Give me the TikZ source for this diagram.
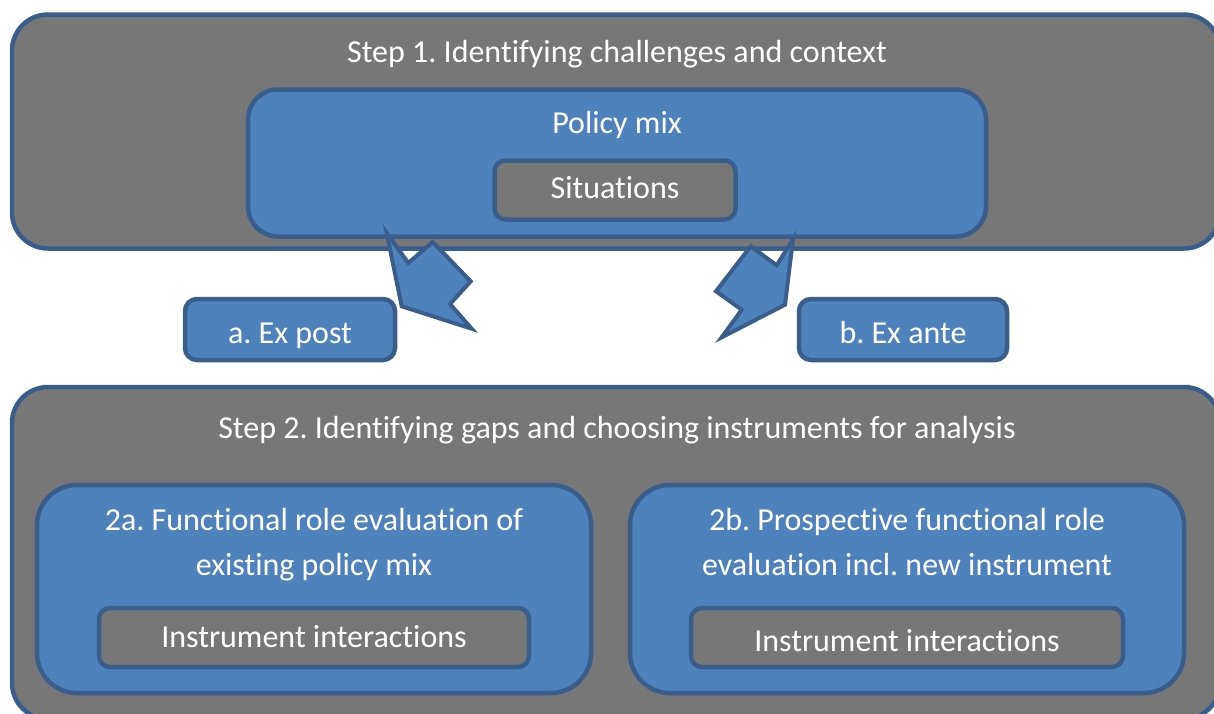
\documentclass[tikz,border=0pt]{standalone}
\usepackage{fontspec}
\setmainfont{Carlito}[Ligatures=NoCommon]
\usepackage{xcolor}
\usepackage{tikz}
\definecolor{boxblue}{HTML}{4F81BD}
\definecolor{edgeblue}{HTML}{3A5E8C}
\definecolor{boxgray}{HTML}{777777}
\frenchspacing

\begin{document}
\begin{tikzpicture}[x=1pt,y=-1pt,
  step box/.style={draw=edgeblue,line width=4.5pt,fill=boxgray,rounded corners=36pt,inner sep=0pt},
  blue box/.style={draw=edgeblue,line width=4.5pt,fill=boxblue,rounded corners=#1,inner sep=0pt},
  blue box/.default=12pt,
  gray box/.style={draw=edgeblue,line width=4.5pt,fill=boxgray,rounded corners=11pt,inner sep=0pt},
  txt/.style={text=white,anchor=base,inner sep=0pt,font=\fontsize{32}{45}\selectfont},
  block arrow/.style={draw=edgeblue,line width=4pt,fill=boxblue,line join=miter}]
\useasboundingbox (0,0) rectangle (1214,713);

% Step 1
\node[step box, minimum width=1208pt, minimum height=234pt] (S1) at (616,131.5) {};
\node[blue box=30pt, minimum width=738pt, minimum height=147pt] (PM) at (617,163) {};
\node[gray box, minimum width=241pt, minimum height=59pt]  (SI) at (615,190) {};
\node[txt] (S1t) at (617,62) {Step 1. Identifying challenges and context};
\node[txt] (PMt) at (617,133.5) {Policy mix};
\node[txt] (SIt) at (615,198.5) {Situations};

% block arrows
\draw[block arrow] (386.7,233) -- (408.3,263) -- (432.7,242) -- (470.7,281.3)
  -- (450,304) -- (471.7,328.7) -- (401.7,306.3) -- cycle;
\draw[block arrow] (793,239) -- (776.7,265.3) -- (750.7,246.3) -- (716,291.3)
  -- (741.7,309.7) -- (721.7,337.3) -- (785,304.7) -- cycle;

\node[blue box, minimum width=210pt, minimum height=61pt] (EP) at (290,329.5) {};
\node[blue box, minimum width=208pt, minimum height=61pt] (EA) at (903,329.5) {};
\node[txt] (EPt) at (290,343) {a. Ex post};
\node[txt] (EAt) at (903,343) {b. Ex ante};

% Step 2
\node[step box, minimum width=1208pt, minimum height=332pt] (S2) at (616,553) {};
\node[txt] (S2t) at (617,438.5) {Step 2. Identifying gaps and choosing instruments for analysis};

\node[blue box=40pt, minimum width=554pt, minimum height=208pt] (FA) at (314,589) {};
\node[blue box=40pt, minimum width=554pt, minimum height=208pt] (FB) at (907,589) {};
\node[gray box, minimum width=430pt, minimum height=59pt] (IA) at (314,637.5) {};
\node[gray box, minimum width=432pt, minimum height=59pt] (IB) at (907,637.5) {};

\node[txt,align=center,anchor=north] (FAt) at (314,508) {2a. Functional role evaluation of\\existing policy mix};
\node[txt,align=center,anchor=north] (FBt) at (907,508) {2b. Prospective functional role\\evaluation incl. new instrument};
\node[txt] (IAt) at (314,647) {Instrument interactions};
\node[txt] (IBt) at (907,651) {Instrument interactions};
\end{tikzpicture}
\end{document}
